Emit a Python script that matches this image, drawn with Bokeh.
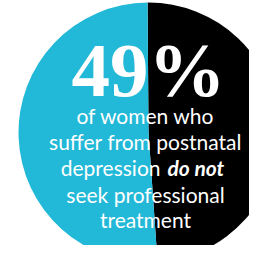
import math
from bokeh.plotting import figure
from bokeh.models import ColumnDataSource, Range1d
from bokeh.core.properties import value
from bokeh.embed import file_html
from bokeh.resources import INLINE

# ---- data ----
groups = ["do not seek professional treatment", "seek professional treatment"]
shares = [49, 51]
headline = "49%"
caption_lines = ["of women who", "suffer from postnatal", "seek professional", "treatment"]
caption_mixed_regular = "depression"
caption_mixed_bold = "do not"

# ---- style / layout ----
W, H = 249, 245
colors = ["#000000", "#22B8D7"]
cx, cy, r = 148, 113, 130
start_deg = -86.0

total = float(sum(shares))
starts, ends = [], []
a = math.radians(start_deg)
for s in shares:
    starts.append(a)
    a = a + 2 * math.pi * s / total
    ends.append(a)

src = ColumnDataSource(dict(group=groups, share=shares, start=starts, end=ends,
                            color=colors, x=[cx] * len(shares), y=[cy] * len(shares)))

p = figure(width=W, height=H, output_backend="svg", toolbar_location=None,
           x_range=Range1d(0, W), y_range=Range1d(0, H), min_border=0,
           background_fill_color="white", border_fill_color="white")
p.axis.visible = False
p.grid.visible = False
p.outline_line_color = None

p.wedge(x="x", y="y", radius=r, start_angle="start", end_angle="end",
        fill_color="color", line_color=None, source=src)

tx = 145
p.text(x=[148], y=[176], text=[headline], text_font=value("Liberation Serif"),
       text_font_style="bold", text_font_size="77px", text_color="white",
       text_align="center", text_baseline="alphabetic")

fs = "21px"
ys = [130, 104, 51, 26]
p.text(x=[tx] * len(caption_lines), y=ys, text=caption_lines, text_font=value("Lato"),
       text_font_size=fs, text_color="white", text_align="center",
       text_baseline="alphabetic")

p.text(x=[160], y=[78], text=[caption_mixed_regular], text_font=value("Lato"),
       text_font_size=fs, text_color="white", text_align="right",
       text_baseline="alphabetic")
p.text(x=[167], y=[78], text=[caption_mixed_bold], text_font=value("Lato"),
       text_font_style="bold italic", text_font_size=fs, text_color="white",
       text_align="left", text_baseline="alphabetic")

open("out.html", "w").write(file_html(p, INLINE))
